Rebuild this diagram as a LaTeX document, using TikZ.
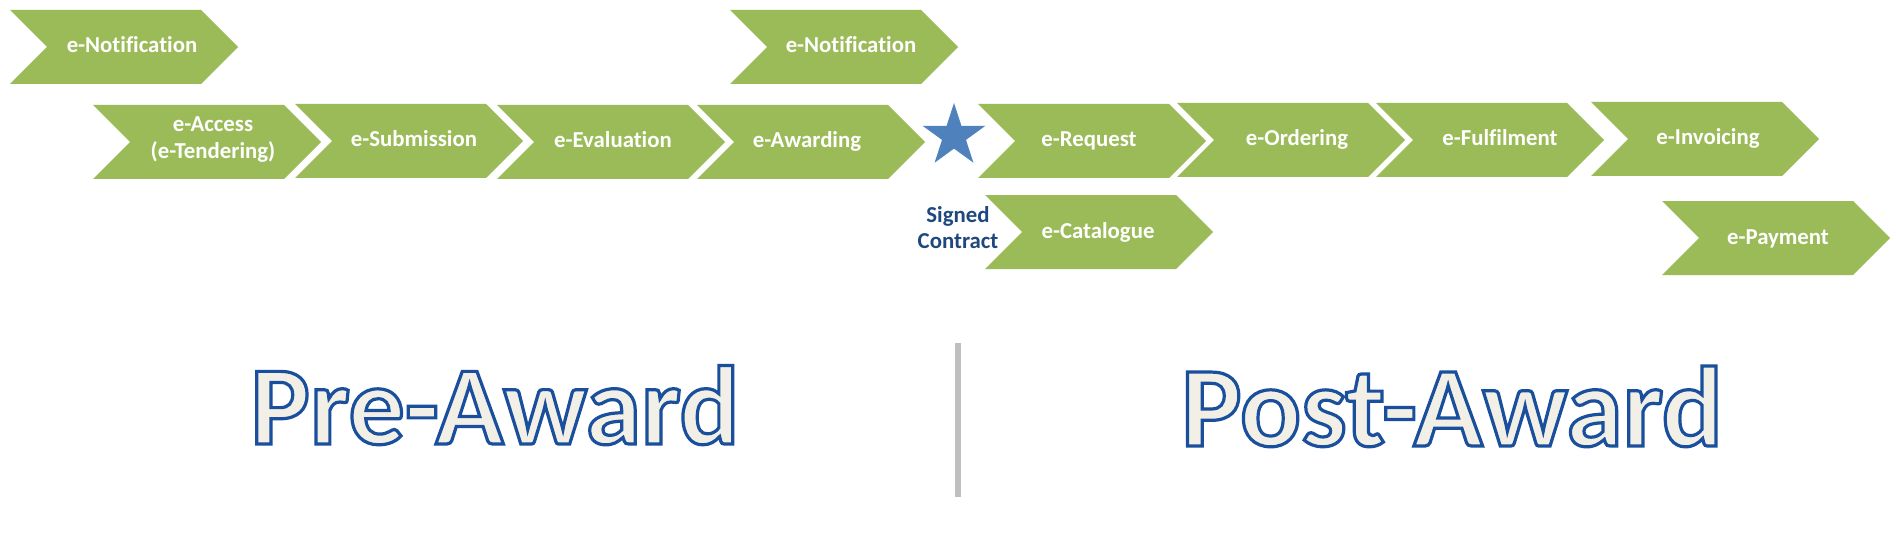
\documentclass[tikz,border=0pt]{standalone}
\usepackage{fontspec}
\setmainfont{Carlito}[Ligatures=NoCommon]
\usetikzlibrary{shapes.geometric}
\definecolor{chevgreen}{HTML}{9BBB59}
\definecolor{starblue}{HTML}{4F81BD}
\definecolor{signblue}{HTML}{1F497D}
\definecolor{cream}{HTML}{F2F0E6}
\definecolor{divgray}{HTML}{BFBFBF}
\newcommand\mychev[5]{%
  \fill[chevgreen] (#2,#3) -- ++(191,0) -- ++(37,37) -- ++(-37,37) -- ++(-191,0) -- ++(37,-37) -- cycle;
  \node[chevtext] (#1) at (#4,#3+43) {#5};
}
\newcommand\outlinedtext[1]{\special{pdf:literal direct 2 Tr 1.6 w 0.10 0.31 0.61 RG}#1\special{pdf:literal direct 0 Tr}}
\tikzset{
  chevtext/.style={anchor=base, inner sep=0pt, text=white, font=\bfseries\fontsize{11.4}{13.5}\selectfont, align=center},
  signtext/.style={anchor=base, inner sep=0pt, text=signblue, font=\bfseries\fontsize{11.4}{13}\selectfont, align=center},
  bigtext/.style={anchor=base, inner sep=0pt, text=cream},
}
\begin{document}
\begin{tikzpicture}[x=0.5pt,y=-0.5pt]
\fill[white] (0,0) rectangle (1896,551);
\path[use as bounding box] (0,0) rectangle (1896,551);
% top row
\mychev{notifA}{10}{10}{132}{e-Notification}
\mychev{notifB}{730}{10}{851}{e-Notification}
% pre-award chain
\fill[chevgreen] (93,105) -- ++(191,0) -- ++(37,37) -- ++(-37,37) -- ++(-191,0) -- ++(37,-37) -- cycle;
\node[chevtext] (access) at (213,159) {e-Access\\(e-Tendering)};
\mychev{submission}{295}{104}{414}{e-Submission}
\mychev{evaluation}{497}{105}{613}{e-Evaluation}
\mychev{awarding}{697}{105}{807}{e-Awarding}
% star
\node[star, star points=5, star point ratio=2.618, fill=starblue, draw=none, minimum size=33pt, inner sep=0pt] (star) at (954,136) {};
% post-award chain
\mychev{request}{978}{104}{1089}{e-Request}
\mychev{ordering}{1177}{103}{1297}{e-Ordering}
\mychev{fulfilment}{1376}{103}{1500}{e-Fulfilment}
\mychev{invoicing}{1591}{102}{1708}{e-Invoicing}
\mychev{catalogue}{985}{195}{1098}{e-Catalogue}
\mychev{payment}{1662}{201}{1778}{e-Payment}
% signed contract
\node[signtext] (signed) at (958,248) {Signed\\Contract};
% divider
\coordinate (divtop) at (958,343);
\coordinate (divbot) at (958,497);
\draw[divgray, line width=3pt] (divtop) -- (divbot);
% big labels
\node[bigtext, font=\bfseries\fontsize{56}{60}\selectfont] (pre) at (495,444) {\outlinedtext{Pre-Award}};
\node[bigtext, font=\bfseries\fontsize{57}{60}\selectfont] (post) at (1452,446) {\outlinedtext{Post-Award}};
\end{tikzpicture}
\end{document}
